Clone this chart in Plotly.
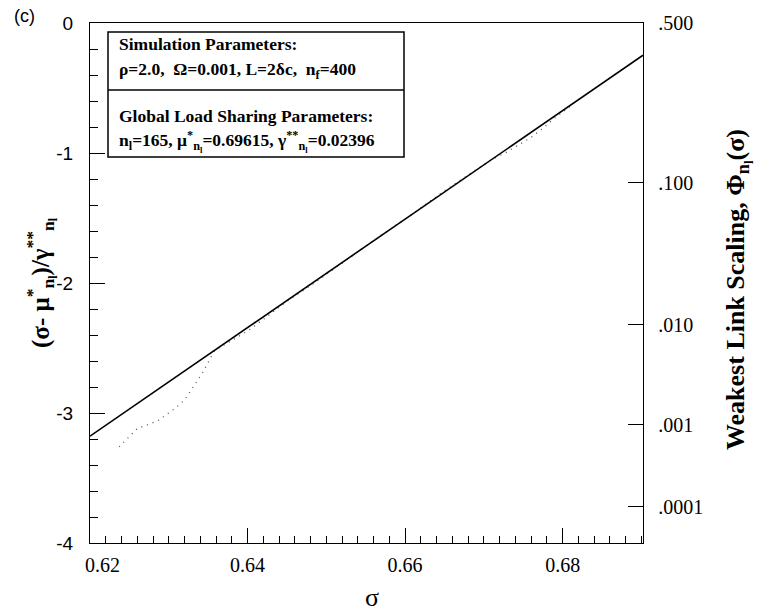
import plotly.graph_objects as go

# ---- data ----
mu_star = 0.69615
gamma_ss = 0.02396
sigma_range = [0.62, 0.6902]

sim_sigma = [0.6237, 0.6260, 0.6286, 0.6309, 0.6320, 0.6330, 0.6343, 0.6358,
             0.6380, 0.6400, 0.6420, 0.6450, 0.6480, 0.6510, 0.6540, 0.6570,
             0.6600, 0.6630, 0.6650, 0.6680, 0.6710, 0.6727, 0.6746, 0.6760,
             0.6775, 0.6790, 0.6810]
sim_y = [-3.26, -3.12, -3.06, -2.96, -2.90, -2.81, -2.69, -2.52,
         -2.44, -2.37, -2.28, -2.14, -2.02, -1.89, -1.76, -1.63,
         -1.51, -1.38, -1.29, -1.17, -1.05, -1.00, -0.93, -0.88,
         -0.81, -0.73, -0.64]

left_ticks = [0, -1, -2, -3, -4]
left_text = ["0", "-1", "-2", "-3", "-4"]
right_ticks = [0.0, -1.23, -2.32, -3.09, -3.72]
right_text = [".500", ".100", ".010", ".001", ".0001"]
x_ticks = [0.62, 0.64, 0.66, 0.68]
x_text = ["\u00a0\u00a0\u00a0\u00a0\u00a00.62", "0.64", "0.66", "0.68"]

# ---- geometry helpers ----
L, R, T, B = 90, 643, 23, 543
W, H = 768, 611
def px(x):
    return (x - L) / (R - L)
def py(y):
    return (B - y) / (B - T)

SERIF = "Liberation Serif"
SANS = "Liberation Sans"

line_y = [(s - mu_star) / gamma_ss for s in sigma_range]

fig = go.Figure()
fig.add_trace(go.Scatter(x=sim_sigma, y=sim_y, mode="lines",
                         line=dict(color="#555", width=1.3, dash="1px,5px"),
                         showlegend=False, hoverinfo="skip"))
fig.add_trace(go.Scatter(x=sigma_range, y=line_y, mode="lines",
                         line=dict(color="black", width=1.6),
                         showlegend=False))
fig.add_trace(go.Scatter(x=sigma_range, y=line_y, mode="lines", yaxis="y2",
                         line=dict(color="rgba(0,0,0,0)", width=0),
                         showlegend=False, hoverinfo="skip"))

fig.update_layout(
    width=W, height=H,
    margin=dict(l=L, r=W - R, t=T, b=H - B),
    plot_bgcolor="white", paper_bgcolor="white",
    showlegend=False,
    xaxis=dict(range=sigma_range, showline=True, linecolor="black", linewidth=1.3,
               mirror=True, showgrid=False, zeroline=False,
               ticks="inside", ticklen=15, tickcolor="black", tickwidth=1,
               tickvals=x_ticks, ticktext=x_text, ticklabelstandoff=4,
               tickfont=dict(family=SERIF, size=20, color="black"),
               minor=dict(dtick=0.002, tick0=0.62, ticks="inside", ticklen=7,
                          tickcolor="black", showgrid=False)),
    yaxis=dict(range=[-4, 0], showline=True, linecolor="black", linewidth=1.3,
               showgrid=False, zeroline=False,
               ticks="inside", ticklen=15, tickcolor="black", tickwidth=1,
               tickvals=left_ticks, ticktext=left_text, ticklabelstandoff=12,
               tickfont=dict(family=SANS, size=19, color="black"),
               minor=dict(dtick=0.2, tick0=0, ticks="inside", ticklen=8,
                          tickcolor="black", showgrid=False)),
    yaxis2=dict(range=[-4, 0], overlaying="y", side="right", showline=True,
                linecolor="black", linewidth=1.3, showgrid=False, zeroline=False,
                ticks="inside", ticklen=15, tickcolor="black", tickwidth=1,
                tickvals=right_ticks, ticktext=right_text, ticklabelstandoff=10,
                tickfont=dict(family=SERIF, size=20, color="black")),
)

# legend boxes
bx0, bx1 = px(108), px(404)
fig.add_shape(type="rect", xref="paper", yref="paper", x0=bx0, x1=bx1,
              y0=py(157), y1=py(32), line=dict(color="black", width=1.5),
              fillcolor="white", layer="above")
fig.add_shape(type="line", xref="paper", yref="paper", x0=bx0, x1=bx1,
              y0=py(90), y1=py(90), line=dict(color="black", width=1.5))

legend_lines = [
    ("<b>Simulation Parameters:</b>", 44),
    ("<b>ρ=2.0,  Ω=0.001, L=2δc,  n<sub>f</sub>=400</b>", 70),
    ("<b>Global Load Sharing Parameters:</b>", 116),
    ("<b>n<sub>l</sub>=165, μ<sup>*</sup><sub>n<sub>l</sub></sub>=0.69615, γ<sup>**</sup><sub>n<sub>l</sub></sub>=0.02396</b>", 141),
]
for txt, yy in legend_lines:
    fig.add_annotation(text=txt, xref="paper", yref="paper", x=px(117), y=py(yy),
                       xanchor="left", yanchor="middle", showarrow=False,
                       font=dict(family=SERIF, size=17.5, color="black"))

# axis titles
fig.add_annotation(text="<b>(σ- μ<sup>*</sup><sub>n<sub>l</sub></sub>)/γ<sup>**</sup><sub>n<sub>l</sub></sub></b>",
                   xref="paper", yref="paper", x=px(41), y=py(283),
                   xanchor="center", yanchor="middle", textangle=-90, showarrow=False,
                   font=dict(family=SERIF, size=25, color="black"))
fig.add_annotation(text="<b>Weakest Link Scaling, Φ<sub>n<sub>l</sub></sub>(σ)</b>",
                   xref="paper", yref="paper", x=px(738), y=py(290),
                   xanchor="center", yanchor="middle", textangle=-90, showarrow=False,
                   font=dict(family=SERIF, size=26, color="black"))
fig.add_annotation(text="σ", xref="paper", yref="paper", x=px(372), y=py(597),
                   xanchor="center", yanchor="middle", showarrow=False,
                   font=dict(family=SERIF, size=26, color="black"))
fig.add_annotation(text="(c)", xref="paper", yref="paper", x=px(12), y=py(16),
                   xanchor="left", yanchor="middle", showarrow=False,
                   font=dict(family=SANS, size=18, color="black"))

fig.write_html("out.html")
